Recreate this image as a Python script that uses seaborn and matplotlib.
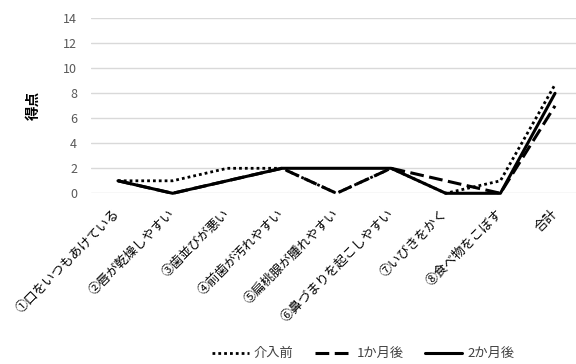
import numpy as np
import pandas as pd
import matplotlib
matplotlib.use('Agg')
import matplotlib.pyplot as plt
import seaborn as sns

# data
categories = ['①口をいつもあけている', '②唇が乾燥しやすい', '③歯並びが悪い',
              '④前歯が汚れやすい', '⑤扁桃腺が腫れやすい', '⑥鼻づまりを起こしやすい',
              '⑦いびきをかく', '⑧食べ物をこぼす', '合計']
before = [1, 1, 2, 2, 0, 2, 0, 1, 8.7]
month1 = [1, 0, 1, 2, 0, 2, 1, 0, 7]
month2 = [1, 0, 1, 2, 2, 2, 0, 0, 8]
series_names = ['介入前', '1か月後', '2か月後']
yticks = [0, 2, 4, 6, 8, 10, 12, 14]

sns.set_theme(style='white')
plt.rcParams['font.family'] = ['Noto Sans CJK JP', 'DejaVu Sans']

fig = plt.figure(figsize=(5.76, 3.64), dpi=100)
ax = fig.add_axes([91 / 576, 1 - 193.3 / 364, 1 - 91 / 576, 175 / 364])

x = np.arange(len(categories))
styles = [
    dict(linestyle=(0, (1, 1.1)), linewidth=2.0),
    dict(linestyle=(0, (4.5, 1.8)), linewidth=2.2),
    dict(linestyle='-', linewidth=2.2),
]
for name, vals, st in zip(series_names, [before, month1, month2], styles):
    sns.lineplot(x=x, y=vals, ax=ax, color='black', label=name,
                 clip_on=False, zorder=3, **st)

ax.set_ylim(0, 14)
ax.set_xlim(-0.494, 8.384)
ax.set_yticks(yticks)
ax.yaxis.grid(True, color='#d9d9d9', linewidth=1.0)
ax.xaxis.grid(False)
for s in ax.spines.values():
    s.set_visible(False)
ax.tick_params(axis='y', length=0, pad=10, labelsize=9, labelcolor='#595959')
ax.tick_params(axis='x', length=0, pad=13)

ax.set_xticks(x)
ax.set_xticklabels(categories, rotation=45, ha='right', va='center',
                   rotation_mode='anchor', fontsize=9.2, color='black')

ax.set_ylabel('得点', fontsize=10.5, fontweight='bold', color='black', labelpad=16)
ax.set_xlabel('')

ax.get_legend().remove()
handles, labels = ax.get_legend_handles_labels()
fig.legend(handles, labels, loc='lower center', bbox_to_anchor=(363 / 576, -0.022),
           ncol=3, frameon=False, fontsize=9.5, handlelength=2.8,
           columnspacing=1.6, handletextpad=0.4, labelcolor='#404040')

fig.savefig('out.png', dpi=100)
